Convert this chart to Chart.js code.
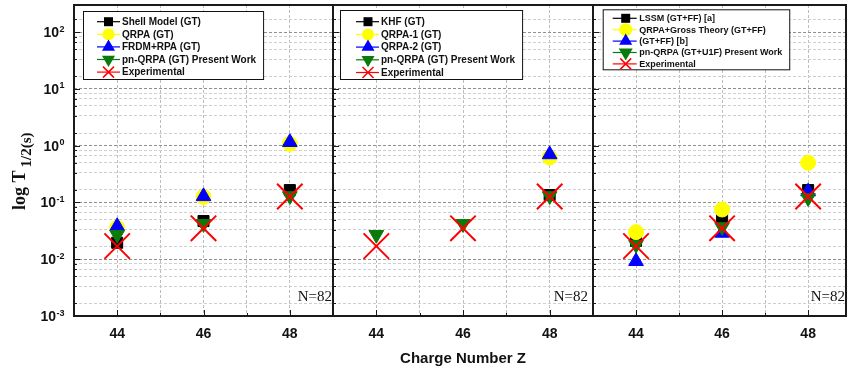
<!DOCTYPE html>
<html>
<head>
<meta charset="utf-8">
<script src="https://cdn.jsdelivr.net/npm/chart.js@4.4.1/dist/chart.umd.min.js"></script>
<style>
html, body { margin: 0; padding: 0; background: #fff; }
#wrap { position: relative; width: 848px; height: 369px; overflow: hidden; background: #fff; }
#wrap canvas { position: absolute; top: 0; }
</style>
</head>
<body>
<div id="wrap">
  <canvas id="p1" width="336" height="369" style="left:0px"></canvas>
  <canvas id="p2" width="266" height="369" style="left:330px"></canvas>
  <canvas id="p3" width="258" height="369" style="left:590px"></canvas>
</div>
<script>
// charge number Z, same for every panel
const zValues = [44, 46, 48];
const xTickLabels = [44, 46, 48];
const yTickExponents = [-3, -2, -1, 0, 1, 2];

// panel 1 - GT
const p1Labels = ['Shell Model (GT)', 'QRPA (GT)', 'FRDM+RPA (GT)', 'pn-QRPA (GT) Present Work', 'Experimental'];
const shellModelGT = [0.0195, 0.047, 0.165];
const qrpaGT = [0.036, 0.125, 1.08];
const frdmRpaGT = [0.038, 0.128, 1.15];
const pnQrpaGT = [0.027, 0.042, 0.13];
const experimental = [0.017, 0.035, 0.127];

// panel 2
const p2Labels = ['KHF (GT)', 'QRPA-1 (GT)', 'QRPA-2 (GT)', 'pn-QRPA (GT) Present Work', 'Experimental'];
const khfGT = [null, null, 0.135];
const qrpa1GT = [null, null, 0.62];
const qrpa2GT = [null, null, 0.70];

// panel 3 - GT+FF
const p3Labels = ['LSSM (GT+FF) [a]', 'QRPA+Gross Theory (GT+FF)', '(GT+FF) [b]', 'pn-QRPA (GT+U1F) Present Work', 'Experimental'];
const lssmGTFF = [0.021, 0.050, 0.165];
const qrpaGrossGTFF = [0.030, 0.075, 0.50];
const gtffB = [0.0092, 0.029, 0.155];
const pnQrpaGTU1F = [0.018, 0.037, 0.12];

const SANS = '"Liberation Sans", Arial, sans-serif';
const SERIF = '"Liberation Serif", "Times New Roman", serif';

// marker look, one per legend row
const markers = [
  { kind: 'rect', style: 'rect', rot: 0, r: 7.8, bw: 1, color: '#000000' },
  { kind: 'circle', style: 'circle', rot: 0, r: 7.5, bw: 1, color: '#ffff00' },
  { kind: 'tri', style: 'triangle', rot: 0, r: 8.5, bw: 1, color: '#0000ff' },
  { kind: 'inv', style: 'triangle', rot: 180, r: 8.5, bw: 1, color: '#0a7a0a' },
  { kind: 'cross', style: 'crossRot', rot: 0, r: 18, bw: 2, color: '#ff0000' }
];

function isDecade(v) {
  const l = Math.log10(v);
  return Math.abs(l - Math.round(l)) < 1e-9;
}

// grid values of the log axis: decades plus k/6 of next decade
function logGrid(min, max) {
  const out = [];
  yTickExponents.forEach(e => {
    const b = Math.pow(10, e);
    out.push(b);
    for (let k = 1; k <= 5; k++) out.push(k / 6 * b * 10);
  });
  return out.filter(v => v >= min * 0.999 && v <= max * 1.001);
}

function glyph(ctx, kind, x, y, s, color) {
  ctx.fillStyle = color;
  ctx.strokeStyle = color;
  ctx.beginPath();
  const h = s * 0.866;
  if (kind === 'rect') {
    ctx.fillRect(x - s / 2, y - s / 2, s, s);
  } else if (kind === 'circle') {
    ctx.arc(x, y, s / 2, 0, Math.PI * 2);
    ctx.fill();
  } else if (kind === 'tri') {
    ctx.moveTo(x, y - 2 * h / 3);
    ctx.lineTo(x - s / 2, y + h / 3);
    ctx.lineTo(x + s / 2, y + h / 3);
    ctx.closePath();
    ctx.fill();
  } else if (kind === 'inv') {
    ctx.moveTo(x, y + 2 * h / 3);
    ctx.lineTo(x - s / 2, y - h / 3);
    ctx.lineTo(x + s / 2, y - h / 3);
    ctx.closePath();
    ctx.fill();
  } else {
    ctx.lineWidth = 1.5;
    ctx.moveTo(x - s / 2, y - s / 2); ctx.lineTo(x + s / 2, y + s / 2);
    ctx.moveTo(x + s / 2, y - s / 2); ctx.lineTo(x - s / 2, y + s / 2);
    ctx.stroke();
  }
}

const panelDecor = {
  id: 'panelDecor',
  afterDraw(chart, args, o) {
    const ctx = chart.ctx;
    const ca = chart.chartArea;
    const xs = chart.scales.x, ys = chart.scales.y;
    ctx.save();

    // inward tick marks
    ctx.strokeStyle = '#1a1a1a';
    ctx.lineWidth = 1;
    ctx.beginPath();
    ys.ticks.forEach(t => {
      const y = Math.round(ys.getPixelForValue(t.value)) + 0.5;
      const len = isDecade(t.value) ? 6 : 3;
      ctx.moveTo(ca.left, y); ctx.lineTo(ca.left + len, y);
    });
    xs.ticks.forEach(t => {
      if (!Number.isInteger(t.value)) return;
      const x = Math.round(xs.getPixelForValue(t.value)) + 0.5;
      const len = xTickLabels.includes(t.value) ? 6 : 3;
      ctx.moveTo(x, ca.bottom); ctx.lineTo(x, ca.bottom - len);
    });
    ctx.stroke();

    // frame
    ctx.lineWidth = 2;
    ctx.strokeStyle = '#1a1a1a';
    ctx.strokeRect(ca.left, ca.top, ca.right - ca.left, ca.bottom - ca.top);

    // legend box
    const lg = o.legend;
    const bx = ca.left + lg.dx, by = ca.top + lg.dy;
    ctx.font = 'bold ' + lg.font + 'px ' + SANS;
    let tw = 0;
    chart.data.datasets.forEach(d => { tw = Math.max(tw, ctx.measureText(d.label).width); });
    const bw = lg.textX + tw + lg.padR;
    ctx.fillStyle = '#fff';
    ctx.fillRect(bx, by, bw, lg.h);
    ctx.lineWidth = 1;
    ctx.strokeStyle = '#111';
    ctx.strokeRect(bx + 0.5, by + 0.5, bw, lg.h);
    chart.data.datasets.forEach((d, i) => {
      const m = markers[i];
      const ry = by + lg.first + i * lg.gap;
      ctx.strokeStyle = m.color;
      ctx.lineWidth = 1.2;
      ctx.beginPath();
      ctx.moveTo(bx + lg.l0, ry); ctx.lineTo(bx + lg.l1, ry);
      ctx.stroke();
      glyph(ctx, m.kind, bx + lg.mx, ry, lg.sizes[i], m.color);
      ctx.fillStyle = '#111';
      ctx.font = 'bold ' + lg.font + 'px ' + SANS;
      ctx.textAlign = 'left';
      ctx.textBaseline = 'middle';
      ctx.fillText(d.label, bx + lg.textX, ry + 0.5);
    });

    // N=82 note
    ctx.fillStyle = '#111';
    ctx.font = '15px ' + SERIF;
    ctx.textAlign = 'right';
    ctx.textBaseline = 'alphabetic';
    ctx.fillText('N=82', ca.right - o.nOff, 301);

    if (o.yLabels) {
      yTickExponents.forEach(e => {
        const y = ys.getPixelForValue(Math.pow(10, e));
        ctx.font = 'bold 14px ' + SANS;
        const w10 = ctx.measureText('10').width;
        ctx.font = 'bold 9px ' + SANS;
        const ex = String(e);
        const we = ctx.measureText(ex).width;
        const x0 = 64 - w10 - we;
        ctx.fillStyle = '#111';
        ctx.textAlign = 'left';
        ctx.font = 'bold 14px ' + SANS;
        ctx.textBaseline = 'middle';
        ctx.fillText('10', x0, y + 1);
        ctx.font = 'bold 9px ' + SANS;
        ctx.textBaseline = 'alphabetic';
        ctx.fillText(ex, x0 + w10 + 0.5, y - 0.5);
      });
      // y title, rotated
      ctx.translate(25, 210);
      ctx.rotate(-Math.PI / 2);
      ctx.textAlign = 'left';
      ctx.textBaseline = 'alphabetic';
      ctx.font = 'bold 18px ' + SERIF;
      ctx.fillText('log T', 0, 0);
      const w = ctx.measureText('log T').width;
      ctx.font = 'bold 15px ' + SERIF;
      ctx.fillText('1/2(s)', w + 3, 6);
    }
    ctx.restore();
  }
};

function makePanel(id, labels, series, cfg) {
  const yGrid = logGrid(0.001, 300);
  const datasets = labels.map((lab, i) => {
    const m = markers[i];
    return {
      label: lab,
      data: zValues.map((z, j) => ({ x: z, y: series[i][j] })),
      showLine: false,
      pointStyle: m.style,
      pointRotation: m.rot,
      pointRadius: m.r,
      pointBackgroundColor: m.color,
      pointBorderColor: m.color,
      pointBorderWidth: m.bw,
      order: 4 - i
    };
  });
  new Chart(document.getElementById(id), {
    type: 'scatter',
    data: { datasets },
    plugins: [panelDecor],
    options: {
      responsive: false,
      animation: false,
      events: [],
      layout: { autoPadding: false, padding: { left: cfg.padL, right: cfg.padR, top: 5, bottom: 0 } },
      plugins: {
        legend: { display: false },
        tooltip: { enabled: false },
        panelDecor: { legend: cfg.legend, nOff: cfg.nOff, yLabels: cfg.yLabels }
      },
      scales: {
        x: {
          type: 'linear',
          min: 43,
          max: cfg.xMax,
          afterFit: s => { s.height = 53; s.paddingLeft = 0; s.paddingRight = 0; },
          ticks: {
            stepSize: 1,
            includeBounds: false,
            autoSkip: false,
            maxRotation: 0,
            padding: 10,
            color: '#111',
            font: { family: SANS, size: 14, weight: 'bold' },
            callback: v => xTickLabels.includes(v) ? String(v) : ''
          },
          grid: { color: '#bdbdbd', lineWidth: 1, drawTicks: false },
          border: { display: false, dash: [3, 2] },
          title: {
            display: cfg.xTitle,
            text: 'Charge Number Z',
            color: '#111',
            font: { family: SANS, size: 15, weight: 'bold' },
            padding: { top: 1, bottom: 1 }
          }
        },
        y: {
          type: 'logarithmic',
          min: 0.001,
          max: 300,
          afterBuildTicks: s => { s.ticks = yGrid.map(v => ({ value: v })); },
          afterFit: s => { s.width = cfg.yWidth; s.paddingTop = 0; s.paddingBottom = 0; },
          ticks: { display: false },
          grid: {
            drawTicks: false,
            lineWidth: 1,
            color: c => (c.tick && isDecade(c.tick.value)) ? '#8f8f8f' : '#cfcfcf'
          },
          border: { display: false, dash: [3, 2] }
        }
      }
    }
  });
}

makePanel('p1', p1Labels, [shellModelGT, qrpaGT, frdmRpaGT, pnQrpaGT, experimental], {
  padL: 0, padR: 3, yWidth: 74, xMax: 49, xTitle: false, yLabels: true, nOff: 1,
  legend: { dx: 9, dy: 6, h: 68, font: 10, first: 10.7, gap: 12.6, l0: 14, l1: 37, mx: 25.5, textX: 39, padR: 7,
            sizes: [9, 12, 13, 13, 11] }
});
makePanel('p2', p2Labels, [khfGT, qrpa1GT, qrpa2GT, pnQrpaGT, experimental], {
  padL: 3, padR: 3, yWidth: 0, xMax: 49, xTitle: true, yLabels: false, nOff: 5,
  legend: { dx: 7, dy: 5, h: 69, font: 10, first: 11.7, gap: 12.7, l0: 16, l1: 39, mx: 28, textX: 41, padR: 7,
            sizes: [9, 12, 13, 13, 11] }
});
makePanel('p3', p3Labels, [lssmGTFF, qrpaGrossGTFF, gtffB, pnQrpaGTU1F, experimental], {
  padL: 3, padR: 2, yWidth: 0, xMax: 48.88, xTitle: false, yLabels: false, nOff: 1,
  legend: { dx: 9.7, dy: 4.3, h: 60, font: 9, first: 9, gap: 11.4, l0: 10, l1: 34, mx: 23, textX: 36.6, padR: 7,
            sizes: [9, 13, 13, 14, 11] }
});
</script>
</body>
</html>
